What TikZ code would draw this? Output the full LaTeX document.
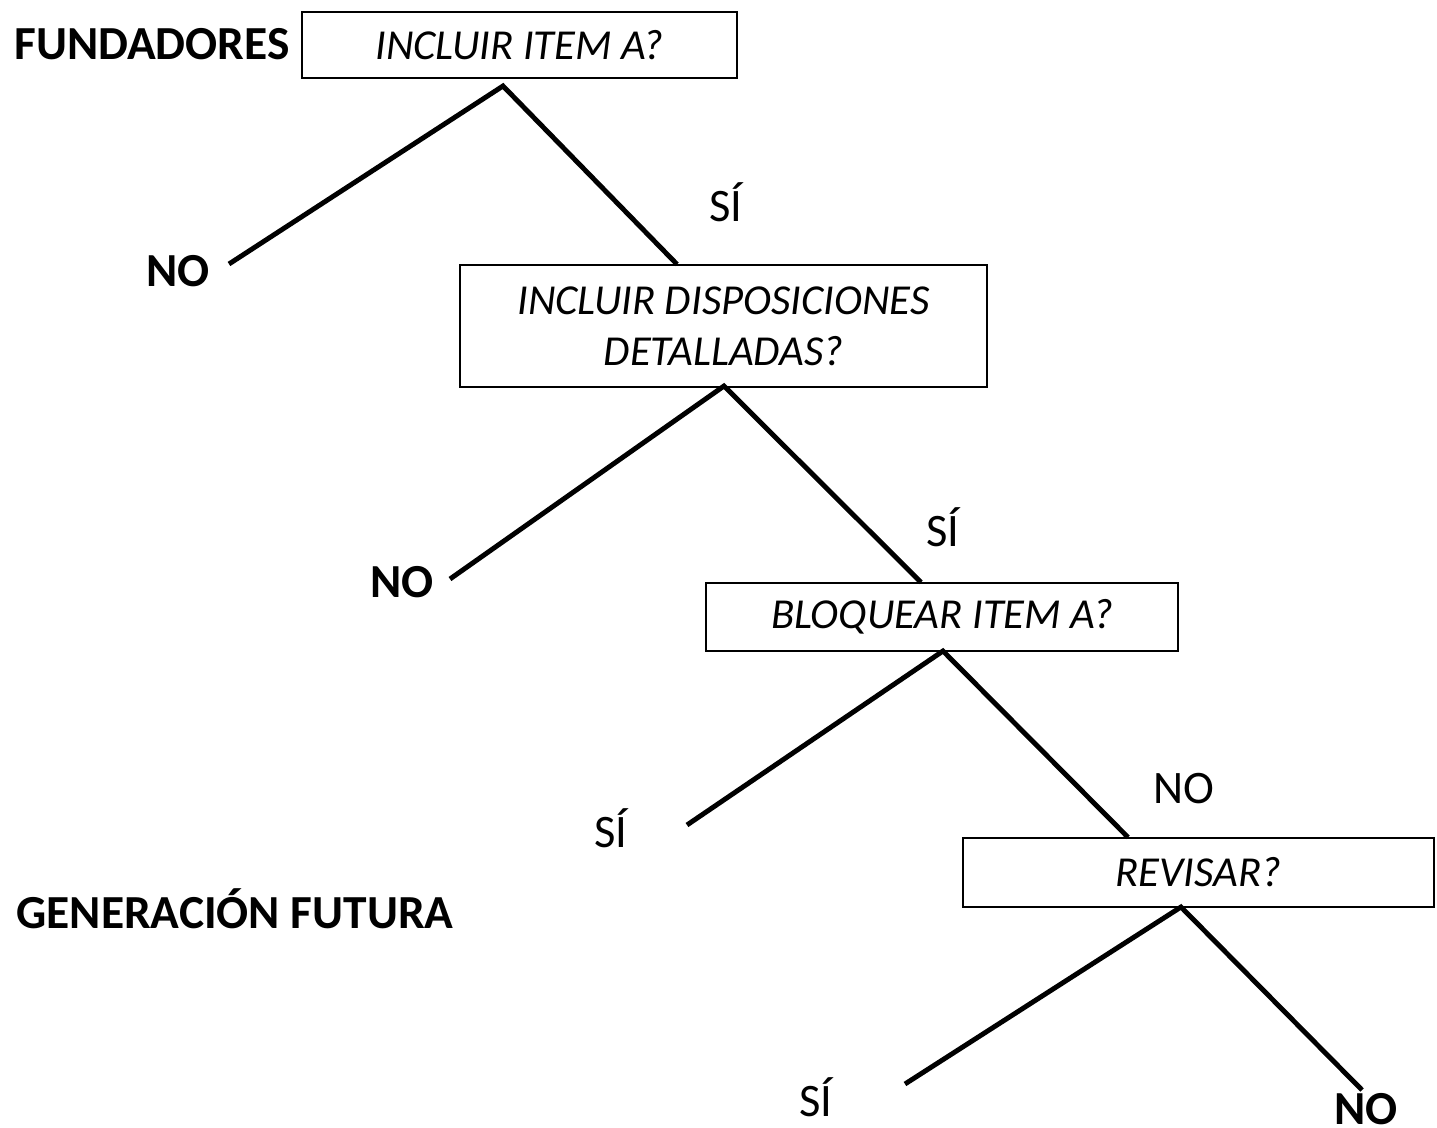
\documentclass[tikz,border=0pt]{standalone}
\usepackage{fontspec}
\setmainfont{Carlito}
\tikzset{
  question/.style={draw, line width=0.8pt, font=\fontsize{24.3}{28.9}\selectfont\itshape, align=center, inner sep=0pt},
  branch/.style={line width=2.8pt},
  answer/.style={anchor=base, inner sep=0pt, font=\fontsize{26.5}{32}\selectfont},
  boldanswer/.style={anchor=base, inner sep=0pt, font=\fontsize{27}{32}\selectfont\bfseries},
}
\begin{document}
\begin{tikzpicture}[x=0.02cm, y=-0.02cm]
    \useasboundingbox (0,0) rectangle (1437,1128);

    % question boxes
    \node[question, minimum width=8.7cm, minimum height=1.32cm] (qa) at (519.5,45) {INCLUIR ITEM A?};
    \node[question, minimum width=10.54cm, minimum height=2.44cm] (qdet) at (723.5,326) {INCLUIR DISPOSICIONES\\DETALLADAS?};
    \node[question, minimum width=9.44cm, minimum height=1.36cm] (qblock) at (942,617) {BLOQUEAR ITEM A?};
    \node[question, minimum width=9.42cm, minimum height=1.38cm] (qrev) at (1198.5,872.5) {REVISAR?};

    \node[boldanswer] (fund) at (152,60) {FUNDADORES};
    \node[boldanswer] (gen) at (235,928) {GENERACIÓN FUTURA};

    % branch points
    \coordinate (ta) at (503,86);
    \coordinate (tdet) at (724,386);
    \coordinate (tblock) at (943,651);
    \coordinate (trev) at (1181,907);
    \coordinate (ea) at (229,264);
    \coordinate (edet) at (450,579);
    \coordinate (eblock) at (687,825);
    \coordinate (erevl) at (905,1084);
    \coordinate (erevr) at (1362,1090);

    \draw[branch] (ea) -- (ta) -- (qdet.north -| 677,0);
    \draw[branch] (edet) -- (tdet) -- (qblock.north -| 921,0);
    \draw[branch] (eblock) -- (tblock) -- (qrev.north -| 1128,0);
    \draw[branch] (erevl) -- (trev) -- (erevr);

    % answers
    \node[boldanswer] (no1) at (178,287) {NO};
    \node[answer] (si1) at (726,222) {SÍ};
    \node[boldanswer] (no2) at (402,597) {NO};
    \node[answer] (si2) at (943,546) {SÍ};
    \node[answer] (si3) at (611,847) {SÍ};
    \node[answer] (no3) at (1184,803) {NO};
    \node[answer] (si4) at (816,1116) {SÍ};
    \node[boldanswer] (no4) at (1366,1124) {NO};
\end{tikzpicture}
\end{document}
